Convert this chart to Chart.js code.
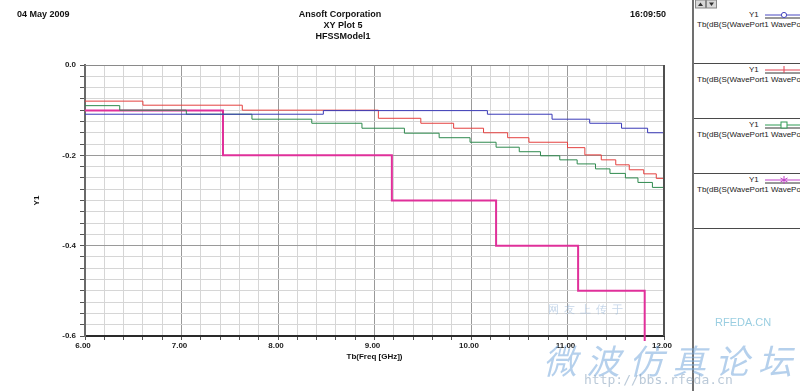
<!DOCTYPE html>
<html>
<head>
<meta charset="utf-8">
<script src="https://cdn.jsdelivr.net/npm/chart.js@4.4.1/dist/chart.umd.min.js"></script>
<style>
  html, body { margin:0; padding:0; background:#fff; }
  #wrap { position:relative; width:800px; height:391px; overflow:hidden; font-family:"Liberation Sans", Arial, sans-serif; }
  canvas { position:absolute; left:0; top:0; }
  .hdr { position:absolute; font-weight:bold; font-size:9px; color:#111; white-space:nowrap; line-height:11px; }
  #panel { position:absolute; left:692px; top:0; width:108px; height:391px; border-left:2px solid #707070; background:#fff; overflow:hidden; }
  .sep { position:absolute; left:0; width:108px; height:0; border-top:1px solid #4a4a4a; }
  .ylab { position:absolute; left:55px; font-size:8px; color:#222; line-height:10px; }
  .tlab { position:absolute; left:3px; font-size:8px; color:#222; white-space:nowrap; line-height:10px; }
  .samp { position:absolute; left:71px; }
  .wm { position:absolute; pointer-events:none; white-space:nowrap; }
</style>
</head>
<body>
<div id="wrap">
  <canvas id="c" width="800" height="391"></canvas>

  <div class="hdr" style="left:17px; top:9px;">04 May 2009</div>
  <div class="hdr" style="left:240px; width:200px; text-align:center; top:9px;">Ansoft Corporation</div>
  <div class="hdr" style="left:243px; width:200px; text-align:center; top:20px;">XY Plot 5</div>
  <div class="hdr" style="left:243px; width:200px; text-align:center; top:31px;">HFSSModel1</div>
  <div class="hdr" style="left:630px; top:9px;">16:09:50</div>

  <div id="panel">
    <svg style="position:absolute;left:1px;top:0" width="22" height="9">
      <rect x="0.5" y="0" width="10" height="8" fill="#d8d8d8" stroke="#888"/>
      <rect x="11.5" y="0" width="10" height="8" fill="#d8d8d8" stroke="#888"/>
      <path d="M3 6 L5.5 2.5 L8 6 Z" fill="#333"/>
      <path d="M14 2.5 L16.5 6 L19 2.5 Z" fill="#333"/>
    </svg>

    <div class="ylab" style="top:10px;">Y1</div>
    <svg class="samp" style="top:10px;" width="40" height="10">
      <line x1="0" y1="5" x2="40" y2="5" stroke="#4848c0" stroke-width="1"/>
      <line x1="0" y1="8" x2="40" y2="8" stroke="#333" stroke-width="1"/>
      <circle cx="19" cy="5" r="2.6" fill="#fff" stroke="#4848c0"/>
    </svg>
    <div class="tlab" style="top:20px;">Tb(dB(S(WavePort1 WavePort1)))</div>
    <div class="sep" style="top:63px;"></div>

    <div class="ylab" style="top:65px;">Y1</div>
    <svg class="samp" style="top:65px;" width="40" height="10">
      <line x1="0" y1="5" x2="40" y2="5" stroke="#e04050" stroke-width="1"/>
      <line x1="0" y1="8" x2="40" y2="8" stroke="#333" stroke-width="1"/>
      <line x1="19" y1="1" x2="19" y2="8" stroke="#e04050" stroke-width="1"/>
    </svg>
    <div class="tlab" style="top:75px;">Tb(dB(S(WavePort1 WavePort1)))</div>
    <div class="sep" style="top:118px;"></div>

    <div class="ylab" style="top:120px;">Y1</div>
    <svg class="samp" style="top:120px;" width="40" height="10">
      <line x1="0" y1="5" x2="40" y2="5" stroke="#2f9a55" stroke-width="1"/>
      <line x1="0" y1="8" x2="40" y2="8" stroke="#333" stroke-width="1"/>
      <rect x="16" y="2" width="6" height="6" fill="#fff" stroke="#2f9a55"/>
    </svg>
    <div class="tlab" style="top:130px;">Tb(dB(S(WavePort1 WavePort1)))</div>
    <div class="sep" style="top:173px;"></div>

    <div class="ylab" style="top:175px;">Y1</div>
    <svg class="samp" style="top:175px;" width="40" height="10">
      <line x1="0" y1="5" x2="40" y2="5" stroke="#c040c8" stroke-width="1"/>
      <line x1="0" y1="8" x2="40" y2="8" stroke="#333" stroke-width="1"/>
      <path d="M19 1 V9 M15.5 3 L22.5 7 M15.5 7 L22.5 3" stroke="#c040c8" stroke-width="1"/>
    </svg>
    <div class="tlab" style="top:185px;">Tb(dB(S(WavePort1 WavePort1)))</div>
    <div class="sep" style="top:228px;"></div>
  </div>

  <div class="wm" style="left:548px; top:302px; font-size:11px; color:rgba(150,180,215,0.55); letter-spacing:5px;">网友上传于</div>
  <div class="wm" style="left:715px; top:316px; font-size:11px; color:rgba(120,190,215,0.75);">RFEDA.CN</div>
  <div class="wm" style="left:543px; top:335px; font-size:34px; font-style:italic; color:rgba(120,170,220,0.55); letter-spacing:9px; font-family:'Noto Sans CJK SC';">微波仿真论坛</div>
  <div class="wm" style="left:584px; top:372px; font-size:13px; color:rgba(140,165,190,0.6); font-family:'DejaVu Sans Mono', monospace;">http://bbs.rfeda.cn</div>
</div>

<script>
// ---- data (Tb(Freq [GHz]) vs Y1) ----
const blueFreq = [6.00, 8.47, 10.17, 10.84, 11.23, 11.56, 11.83, 12.00];
const blueY1   = [-0.109, -0.101, -0.109, -0.120, -0.129, -0.140, -0.150, -0.150];

const redFreq = [6.00, 6.60, 7.63, 9.04, 9.48, 9.82, 10.13, 10.38, 10.60, 11.00, 11.18, 11.35, 11.50, 11.64, 11.79, 11.92, 12.00];
const redY1   = [-0.080, -0.089, -0.100, -0.118, -0.129, -0.140, -0.150, -0.161, -0.171, -0.183, -0.199, -0.210, -0.221, -0.232, -0.241, -0.251, -0.251];

const greenFreq = [6.00, 6.36, 7.05, 7.73, 8.35, 8.87, 9.31, 9.67, 9.99, 10.26, 10.50, 10.72, 10.92, 11.10, 11.29, 11.44, 11.60, 11.73, 11.88, 12.00];
const greenY1   = [-0.090, -0.100, -0.109, -0.120, -0.129, -0.140, -0.151, -0.161, -0.171, -0.182, -0.192, -0.201, -0.210, -0.219, -0.230, -0.240, -0.250, -0.260, -0.271, -0.271];

const pinkFreq = [6.00, 7.43, 9.18, 10.26, 11.11, 11.80, 12.00];
const pinkY1   = [-0.101, -0.200, -0.300, -0.400, -0.500, -0.620, -0.620];

const xTickLabels = ['6.00', '7.00', '8.00', '9.00', '10.00', '11.00', '12.00'];
const yTickLabels = ['-0.6', '-0.4', '-0.2', '0.0'];

function pts(xs, ys) { return xs.map((x, i) => ({ x: x, y: ys[i] })); }

const isMultiple = (v, step) => Math.abs(v / step - Math.round(v / step)) < 1e-6;

const framePlugin = {
  id: 'frame',
  afterDraw(chart) {
    const { ctx, chartArea: a } = chart;
    ctx.save();
    ctx.strokeStyle = '#8a8a8a';
    ctx.lineWidth = 1;
    ctx.beginPath(); ctx.moveTo(a.left, a.top + 0.5); ctx.lineTo(a.right, a.top + 0.5); ctx.stroke();
    ctx.strokeStyle = '#505050';
    ctx.lineWidth = 2;
    ctx.beginPath(); ctx.moveTo(a.right, a.top); ctx.lineTo(a.right, a.bottom); ctx.stroke();
    ctx.restore();
  }
};

const tickFont = { family: "'Liberation Sans', Arial, sans-serif", size: 8, weight: 'bold' };

new Chart(document.getElementById('c'), {
  type: 'line',
  data: {
    datasets: [
      { data: pts(blueFreq, blueY1), borderColor: '#3a3ab8', borderWidth: 1, stepped: 'before', pointRadius: 0, fill: false },
      { data: pts(redFreq, redY1), borderColor: '#e4403f', borderWidth: 1, stepped: 'before', pointRadius: 0, fill: false },
      { data: pts(greenFreq, greenY1), borderColor: '#2e8a4e', borderWidth: 1, stepped: 'before', pointRadius: 0, fill: false },
      { data: pts(pinkFreq, pinkY1), borderColor: '#e0309a', borderWidth: 2, stepped: 'before', pointRadius: 0, fill: false,
        clip: { left: 0, top: 0, right: 0, bottom: 5 } }
    ]
  },
  options: {
    responsive: false,
    animation: false,
    devicePixelRatio: 1,
    layout: { padding: { left: 30, right: 136, top: 65, bottom: 27 } },
    plugins: { legend: { display: false }, tooltip: { enabled: false }, title: { display: false } },
    scales: {
      x: {
        type: 'linear', min: 6, max: 12,
        afterFit(s) { s.height = 28; },
        ticks: {
          stepSize: 0.2, autoSkip: false, maxRotation: 0, padding: 1, labelOffset: -2,
          color: '#222', font: tickFont,
          callback(v) {
            if (!isMultiple(v, 1)) return '';
            return xTickLabels[Math.round(v) - 6];
          }
        },
        grid: {
          drawOnChartArea: true, tickLength: 4,
          color: (c) => (c.tick && isMultiple(c.tick.value, 1)) ? '#9a9a9a' : '#d6d6d6',
          tickColor: '#555'
        },
        border: { display: true, color: '#2a2a2a', width: 2 },
        title: { display: true, text: 'Tb(Freq [GHz])', color: '#111', font: tickFont, padding: { top: 0, bottom: 2 } }
      },
      y: {
        type: 'linear', min: -0.6, max: 0,
        afterFit(s) { s.width = 55; },
        ticks: {
          stepSize: 0.025, autoSkip: false, padding: 4,
          color: '#222', font: tickFont,
          callback(v) {
            if (!isMultiple(v, 0.2)) return '';
            return yTickLabels[Math.round((v + 0.6) / 0.2)];
          }
        },
        grid: {
          drawOnChartArea: true, tickLength: 5,
          color: (c) => (c.tick && isMultiple(c.tick.value, 0.2)) ? '#9a9a9a' : '#d6d6d6',
          tickColor: '#555'
        },
        border: { display: true, color: '#6a6a6a', width: 2 },
        title: { display: true, text: 'Y1', color: '#111', font: tickFont, padding: { top: 2, bottom: 0 } }
      }
    }
  },
  plugins: [framePlugin]
});
</script>
</body>
</html>
